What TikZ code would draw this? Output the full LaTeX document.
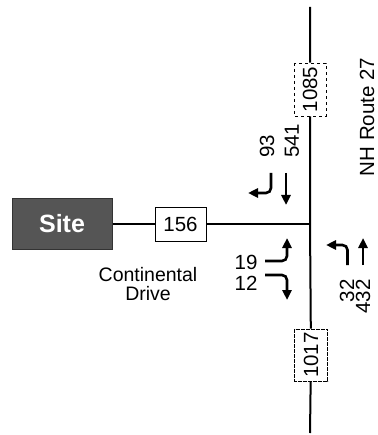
\documentclass[tikz,border=0pt]{standalone}
\usepackage{fontspec}
\setmainfont{Liberation Sans}
\usetikzlibrary{arrows.meta}
\definecolor{sitegray}{HTML}{555555}
\tikzset{
  lbl/.style={font=\fontsize{20.5}{22}\selectfont, inner sep=0pt},
  vol/.style={draw, line width=0.9pt, fill=white, inner sep=0pt, font=\fontsize{20.5}{22}\selectfont},
  vroad/.style={line width=2pt},
  hroad/.style={line width=1.4pt},
  mv/.style={line width=2.6pt, -{Triangle[length=10pt,width=9pt]}, rounded corners=5pt},
}
\begin{document}
\begin{tikzpicture}[x=1pt,y=-1pt]
\useasboundingbox (0,0) rectangle (377,435);
% main road
\coordinate (top) at (310,7);
\coordinate (bot) at (310,433);
\coordinate (J) at (310,224);
\node[vol, dashed, rotate=90, minimum width=53pt, minimum height=32pt] (n1085) at (310,89.5) {1085};
\node[vol, dash pattern=on 4pt off 1pt, rotate=90, minimum width=52pt, minimum height=33pt] (n1017) at (311,355) {1017};
\draw[vroad] (top) -- (n1085) -- (J) -- (n1017) -- (bot);
% site and side road
\node[draw=black!80, fill=sitegray, line width=1pt, minimum width=100pt, minimum height=51pt,
      text=white, font=\fontsize{25}{27}\selectfont\bfseries] (site) at (62,224) {Site};
\node[vol, minimum width=51pt, minimum height=34pt] (n156) at (180.5,224) {156};
\draw[hroad] (site) -- (n156) -- (J);
\node[lbl, font=\fontsize{19.5}{21}\selectfont, align=center] (cd) at (148,284) {Continental\\[-2pt]Drive};
\node[lbl, rotate=90] (nh) at (367,117) {NH Route 27};
% southbound movements
\draw[mv] (271,173) -- (271,193) -- (248,193);
\draw[mv] (286,173) -- (286,205);
\node[lbl, rotate=90, anchor=west] (v93) at (267,158) {93};
\node[lbl, rotate=90, anchor=west] (v541) at (292,158) {541};
% eastbound movements (from site)
\draw[mv] (265,261) -- (287,261) -- (287,238);
\draw[mv] (265,275) -- (287,275) -- (287,300);
\node[lbl] (v19) at (246,262) {19};
\node[lbl] (v12) at (246,283) {12};
% northbound movements
\draw[mv] (347.5,265) -- (347.5,245) -- (326,245);
\draw[mv] (363,265) -- (363,238);
\node[lbl, rotate=90, anchor=east] (v32) at (347,279) {32};
\node[lbl, rotate=90, anchor=east] (v432) at (363,279) {432};
\end{tikzpicture}
\end{document}
